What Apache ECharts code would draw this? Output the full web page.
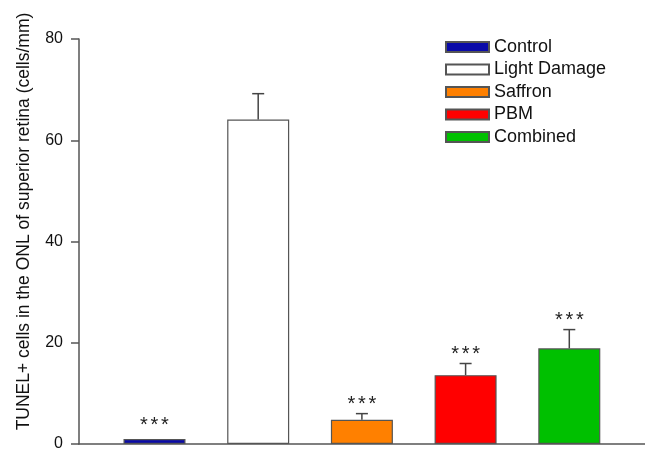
<!DOCTYPE html>
<html>
<head>
<meta charset="utf-8">
<script src="https://cdn.jsdelivr.net/npm/echarts@6/dist/echarts.min.js"></script>
<style>
html,body{margin:0;padding:0;background:#fff;}
#c{width:645px;height:452px;}
</style>
</head>
<body>
<div id="c"></div>
<script>
var categories = ['Control', 'Light Damage', 'Saffron', 'PBM', 'Combined'];
var means = [1.0, 64.1, 4.8, 13.6, 18.9];
var errorTops = [1.0, 69.2, 6.0, 15.9, 22.6];
var signif = ['***', '', '***', '***', '***'];
var colors = ['#0a0aa8', '#ffffff', '#ff8000', '#ff0000', '#00c000'];
var yTicks = {min: 0, max: 80, interval: 20};
var yTitle = 'TUNEL+ cells in the ONL of superior retina (cells/mm)';

var FONT = 'Liberation Sans, Arial, sans-serif';
var chart = echarts.init(document.getElementById('c'), null, {renderer: 'canvas'});

var series = categories.map(function (name, i) {
  return {
    type: 'bar',
    name: name,
    data: [[i + 1, means[i]]],
    barWidth: 62,
    barGap: '-100%',
    itemStyle: {color: colors[i], borderColor: '#555', borderWidth: 1.2},
    emphasis: {disabled: true},
    z: 2
  };
});

series.push({
  type: 'custom',
  name: 'err',
  data: categories.map(function (c, i) { return [i + 1, means[i], errorTops[i]]; }),
  z: 3,
  renderItem: function (params, api) {
    var x = api.value(0);
    var base = api.coord([x, api.value(1)]);
    var top = api.coord([x, api.value(2)]);
    var children = [];
    var hasErr = top[1] < base[1] - 0.5;
    if (hasErr) {
      children.push({type: 'line', shape: {x1: base[0], y1: base[1], x2: top[0], y2: top[1]},
        style: {stroke: '#444', lineWidth: 1.5}});
      children.push({type: 'line', shape: {x1: top[0] - 6, y1: top[1], x2: top[0] + 6, y2: top[1]},
        style: {stroke: '#444', lineWidth: 1.5}});
    }
    var lab = signif[params.dataIndex];
    if (lab) {
      var n = lab.length;
      var yy = top[1] - (hasErr ? 9 : 13);
      for (var k = 0; k < n; k++) {
        children.push({type: 'text', style: {text: lab.charAt(k), x: top[0] + (k - (n - 1) / 2) * 10.5, y: yy,
          align: 'center', verticalAlign: 'middle', fontSize: 20, fontFamily: FONT, fill: '#222'}});
      }
    }
    return {type: 'group', children: children};
  }
});

chart.setOption({
  animation: false,
  backgroundColor: '#fff',
  grid: {left: 79, top: 39, right: 0, bottom: 6, containLabel: false},
  legend: {
    orient: 'vertical', left: 440, top: 33,
    itemWidth: 43, itemHeight: 10, itemGap: 4.5,
    icon: 'rect',
    data: categories,
    textStyle: {fontSize: 18, fontFamily: FONT, color: '#111', lineHeight: 18},
    selectedMode: false
  },
  xAxis: {
    type: 'value', min: 0.272, max: 5.73,
    axisLine: {show: true, lineStyle: {color: '#555', width: 1.5}},
    axisTick: {show: false}, axisLabel: {show: false}, splitLine: {show: false}
  },
  yAxis: {
    type: 'value', min: yTicks.min, max: yTicks.max, interval: yTicks.interval,
    name: yTitle, nameLocation: 'middle', nameGap: 46, nameRotate: 90,
    nameTextStyle: {fontSize: 17.5, fontFamily: FONT, color: '#111', padding: [0, 0, 0, 40]},
    axisLine: {show: true, lineStyle: {color: '#555', width: 1.5}},
    axisTick: {show: true, inside: false, length: 8, lineStyle: {color: '#555', width: 1.5}},
    axisLabel: {fontSize: 16, fontFamily: FONT, color: '#111', margin: 16},
    splitLine: {show: false}
  },
  series: series
});
</script>
</body>
</html>
